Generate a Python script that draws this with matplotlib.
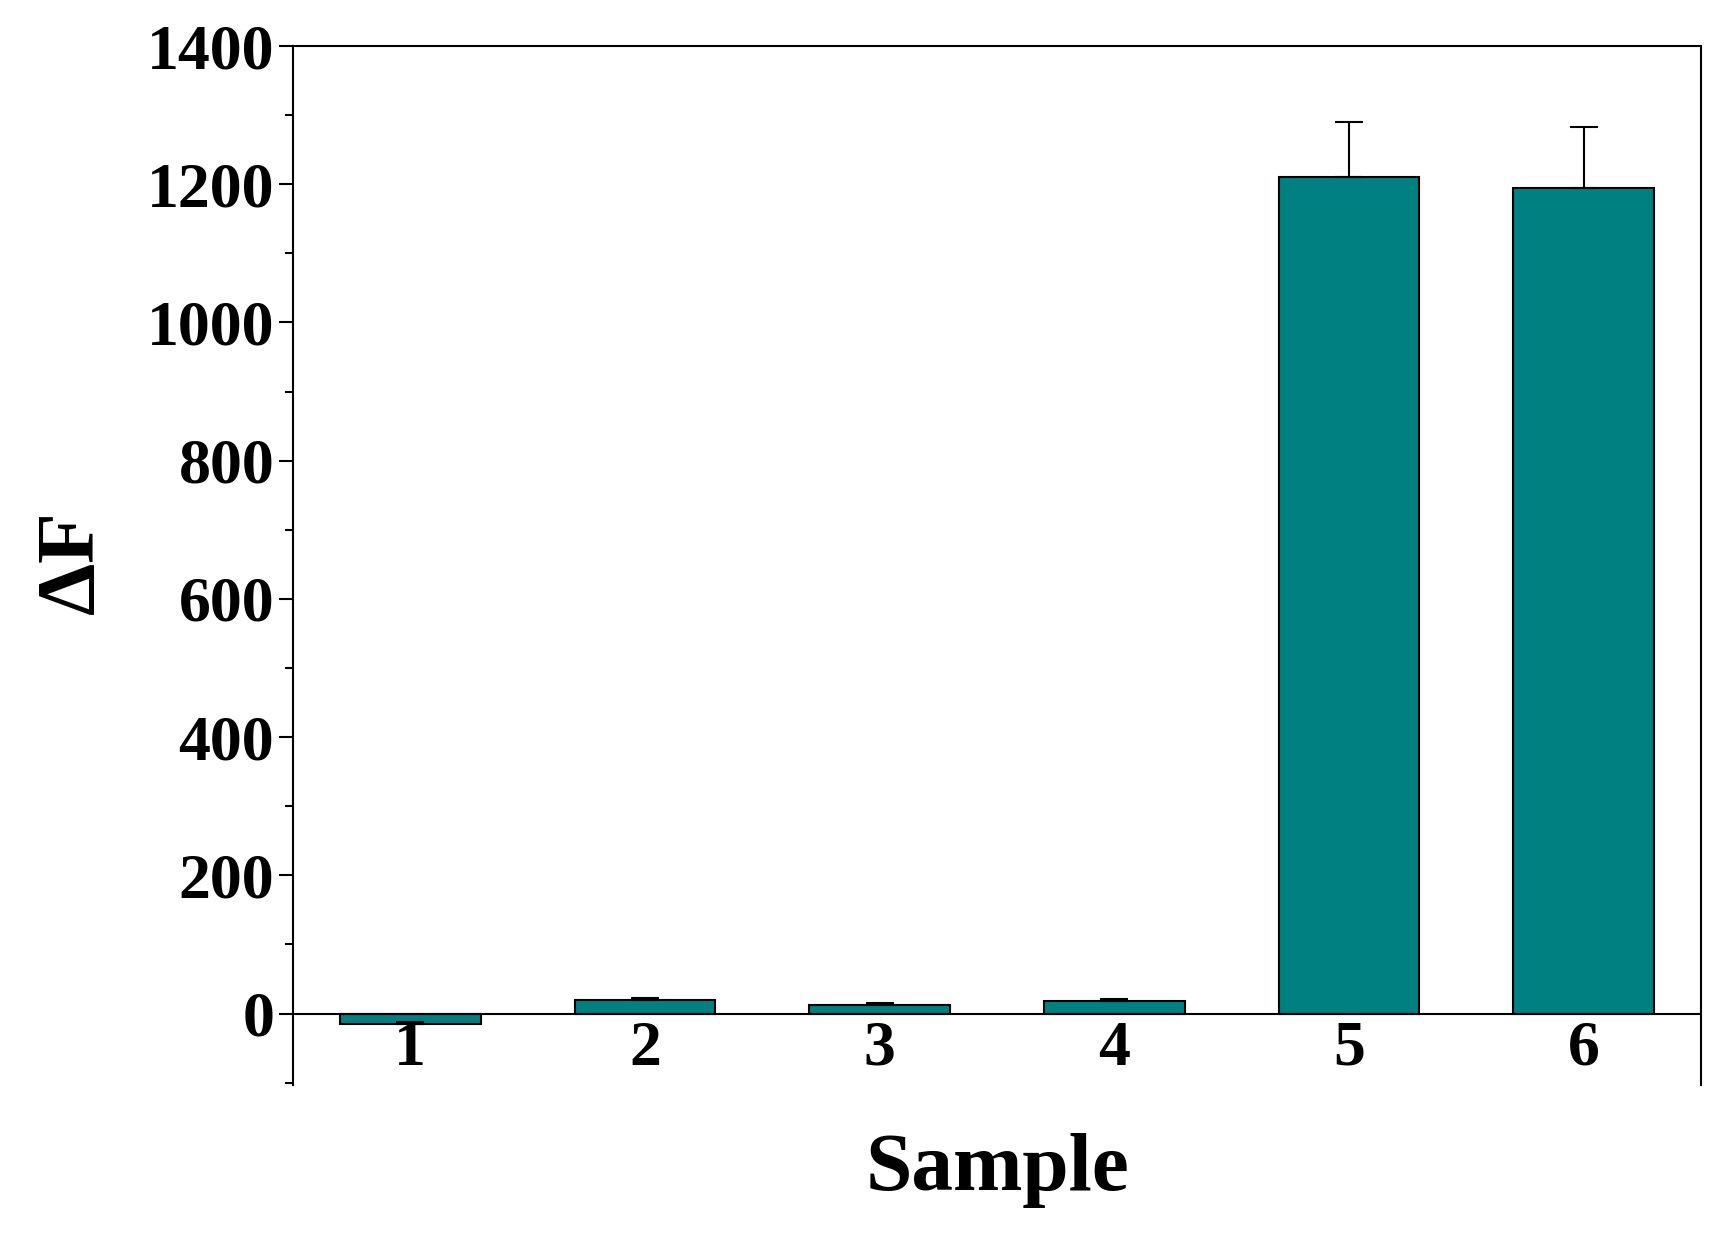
import matplotlib
matplotlib.use("Agg")
import matplotlib.pyplot as plt
from matplotlib.ticker import MultipleLocator

samples = [1, 2, 3, 4, 5, 6]
sample_labels = ['1', '2', '3', '4', '5', '6']
delta_f = [-15, 20, 13, 18, 1210, 1195]
errors = [3, 3, 2, 3, 80, 88]

plt.rcParams['font.family'] = ['Liberation Serif', 'DejaVu Serif']
plt.rcParams['font.weight'] = 'bold'
plt.rcParams['mathtext.fontset'] = 'custom'
plt.rcParams['mathtext.it'] = 'Liberation Serif:bold:italic'
plt.rcParams['mathtext.rm'] = 'Liberation Serif:bold'
plt.rcParams['mathtext.bf'] = 'Liberation Serif:bold'

fig = plt.figure(figsize=(17.13, 12.44), dpi=100)
ax = fig.add_axes([0.171, 0.128, 0.822, 0.835])

ax.bar(samples, delta_f, width=0.6, color='#008080', edgecolor='black', linewidth=1.5,
       yerr=[[0]*6, errors], error_kw=dict(ecolor='black', elinewidth=1.5, capsize=10, capthick=1.5))
ax.axhline(0, color='black', linewidth=1.5)

ax.set_xlim(0.5, 6.5)
ax.set_ylim(-103, 1400)
ax.set_xticks([])
ax.spines['bottom'].set_visible(False)
ax.yaxis.set_major_locator(MultipleLocator(200))
ax.yaxis.set_minor_locator(MultipleLocator(100))
ax.tick_params(axis='y', which='major', direction='out', length=10, width=1.5, labelsize=46)
ax.tick_params(axis='y', which='minor', direction='out', length=6, width=1.5)
for lab in ax.get_yticklabels():
    lab.set_fontweight('bold')
for s in ax.spines.values():
    s.set_linewidth(1.5)

# sample numbers sit inside the frame, below the zero line
for x, lab in zip(samples, sample_labels):
    ax.text(x, -52, lab, ha='center', va='center', fontsize=46, fontweight='bold')

ax.set_xlabel('Sample', fontsize=60, fontweight='bold', labelpad=35)
ax.set_ylabel(r'$\mathit{\Delta}\mathrm{F}$', fontsize=60, labelpad=25)

fig.savefig('out.png', dpi=100)
